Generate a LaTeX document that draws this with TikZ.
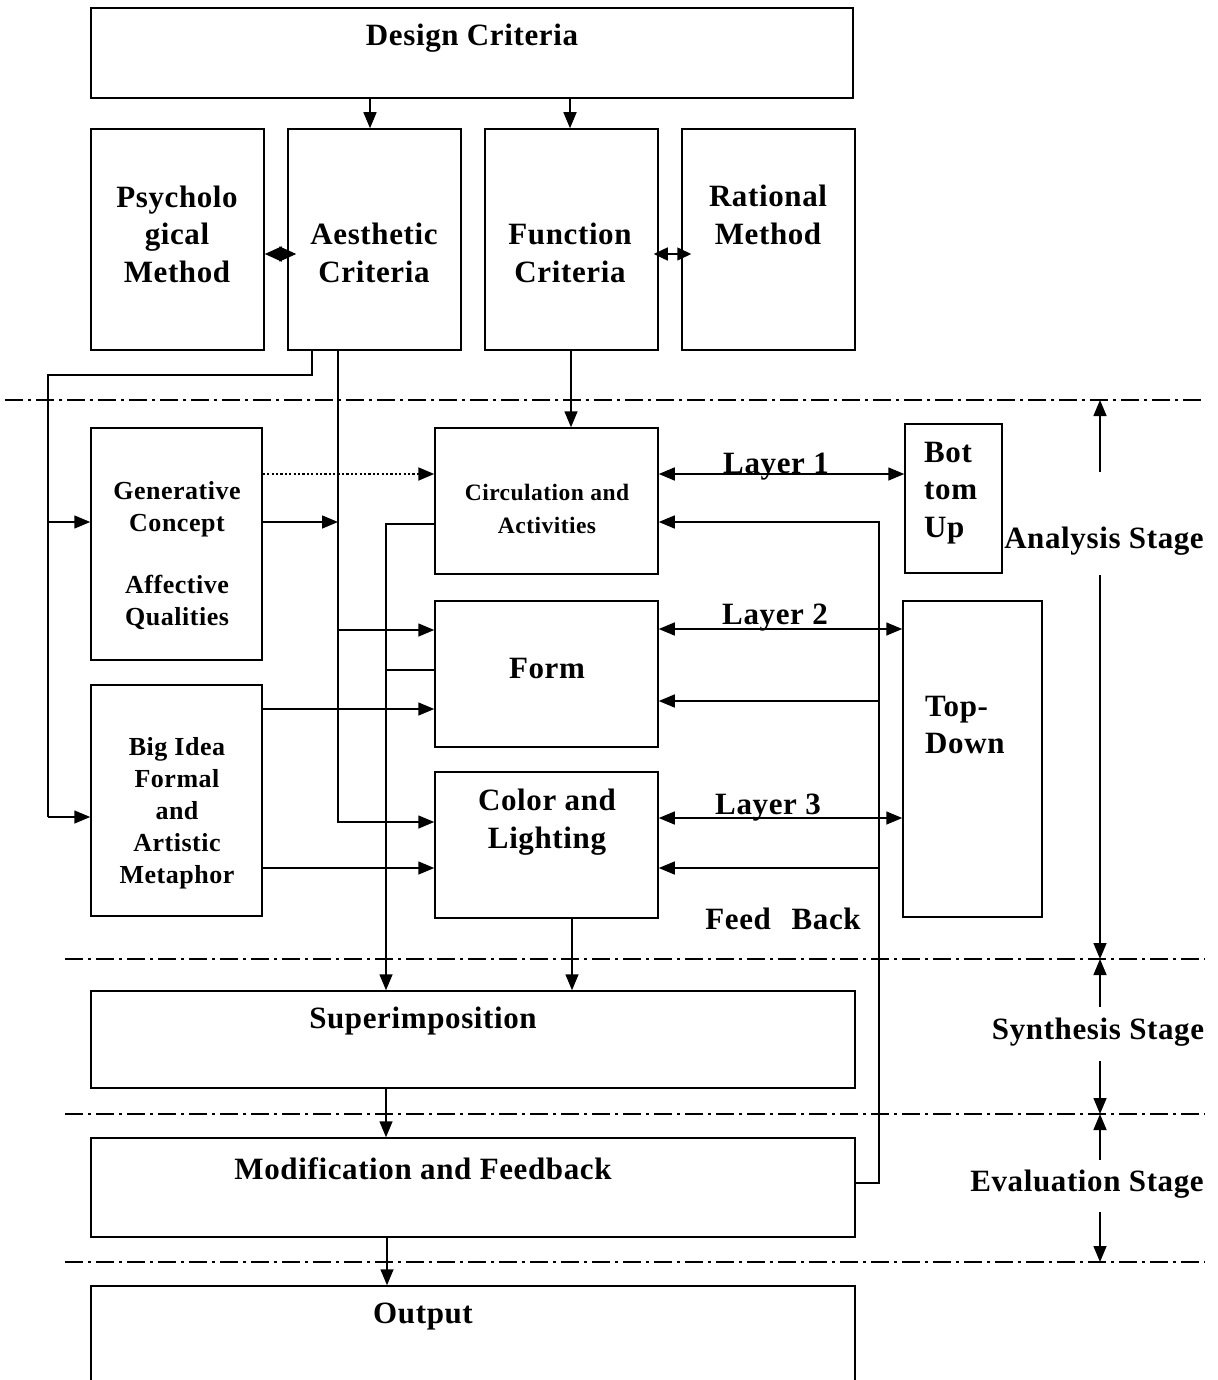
\documentclass[tikz,border=0pt]{standalone}
\usepackage{fontspec}
\setmainfont[LetterSpace=2]{Liberation Serif}
\usetikzlibrary{arrows.meta,fit,calc}
\tikzset{
  box/.style={draw, line width=1.5pt, inner sep=0pt},
  lbl/.style={font=\bfseries\fontsize{31}{37.5}\selectfont, align=center, inner sep=0pt},
  lblm/.style={font=\bfseries\fontsize{26}{32}\selectfont, align=center, inner sep=0pt},
  lbls/.style={font=\bfseries\fontsize{23.5}{33}\selectfont, align=center, inner sep=0pt},
  wire/.style={line width=1.5pt},
  conn/.style={line width=1.5pt, -{Triangle[length=16pt,width=13pt]}},
  dbl/.style={line width=1.5pt, {Triangle[length=16pt,width=13pt]}-{Triangle[length=16pt,width=13pt]}},
  diam/.style={line width=1.5pt, {Triangle[length=17pt,width=15pt]}-{Triangle[length=17pt,width=15pt]},
    shorten >=-9pt},
  dbls/.style={line width=1.5pt, {Triangle[length=14pt,width=13pt]}-{Triangle[length=14pt,width=13pt]},
    shorten <=-5pt, shorten >=-10pt},
  dots/.style={line width=2pt, dash pattern=on 2.2pt off 2.2pt},
  divider/.style={line width=1.5pt, dash pattern=on 18pt off 5pt on 3pt off 5pt},
}
\begin{document}
\begin{tikzpicture}[x=1pt,y=-1pt]
\useasboundingbox (0,0) rectangle (1217,1380);

% ---- boxes ----
\node[box, fit={(91,8)(853,98)}] (dc) {};
\node[box, fit={(91,129)(264,350)}] (psy) {};
\node[box, fit={(288,129)(461,350)}] (aes) {};
\node[box, fit={(485,129)(658,350)}] (fun) {};
\node[box, fit={(682,129)(855,350)}] (rat) {};
\node[box, fit={(91,428)(262,660)}] (gen) {};
\node[box, fit={(91,685)(262,916)}] (big) {};
\node[box, fit={(435,428)(658,574)}] (circ) {};
\node[box, fit={(435,601)(658,747)}] (form) {};
\node[box, fit={(435,772)(658,918)}] (col) {};
\node[box, fit={(905,424)(1002,573)}] (bu) {};
\node[box, fit={(903,601)(1042,917)}] (td) {};
\node[box, fit={(91,991)(855,1088)}] (sup) {};
\node[box, fit={(91,1138)(855,1237)}] (mod) {};
\node[box, fit={(91,1286)(855,1384)}] (out) {};

% ---- labels ----
\node[lbl] (dct) at (472,38) {Design Criteria};
\node[lbl] (psyt) at (177,234) {Psycholo\\gical\\Method};
\node[lbl] (aest) at (374,253) {Aesthetic\\Criteria};
\node[lbl] (funt) at (570,253) {Function\\Criteria};
\node[lbl] (ratt) at (768,215) {Rational\\Method};
\node[lblm] (gent) at (177,556) {Generative\\Concept\\[30pt]Affective\\Qualities};
\node[lblm] (bigt) at (177,813) {Big Idea\\Formal\\and\\Artistic\\Metaphor};
\node[lbls] (circt) at (547,509) {Circulation and\\Activities};
\node[lbl] (formt) at (547,668) {Form};
\node[lbl] (colt) at (547,822) {Color and\\Lighting};
\node[lbl, align=left, anchor=west] (but) at (924,493) {Bot\\tom\\Up};
\node[lbl, align=left, anchor=west] (tdt) at (925,725) {Top-\\Down};
\node[lbl] (l1) at (776,467) {Layer 1};
\node[lbl] (l2) at (775,618) {Layer 2};
\node[lbl] (l3) at (768,808) {Layer 3};
\node[lbl] (fb) at (783,919) {Feed\hspace{0.4em} Back};
\node[lbl] (supt) at (423,1021) {Superimposition};
\node[lbl] (modt) at (423,1169) {Modification and Feedback};
\node[lbl] (outt) at (423,1317) {Output};
\node[lbl] (ana) at (1104,541) {Analysis Stage};
\node[lbl] (syn) at (1098,1032) {Synthesis Stage};
\node[lbl] (eva) at (1087,1184) {Evaluation Stage};

% ---- stage dividers ----
\draw[divider] (5,400) -- (1205,400);
\draw[divider] (65,959) -- (1205,959);
\draw[divider] (65,1114) -- (1205,1114);
\draw[divider] (65,1262) -- (1205,1262);

% ---- top level ----
\draw[conn] (370,0 |- dc.south) -- (370,0 |- aes.north);
\draw[conn] (570,0 |- dc.south) -- (570,0 |- fun.north);
\draw[diam] (psy.east |- 0,254) -- (aes.west |- 0,254);
\draw[dbls] (fun.east |- 0,254) -- (rat.west |- 0,254);

% ---- aesthetic criteria branches ----
\coordinate (busTop) at (48,375);
\draw[wire] (312,0 |- aes.south) |- (busTop) -- (48,817);
\draw[conn] (48,522) -- (gen.west |- 0,522);
\draw[conn] (48,817) -- (big.west |- 0,817);
\draw[conn] (338,0 |- aes.south) |- (col.west |- 0,822);
\draw[conn] (338,630) -- (form.west |- 0,630);
\draw[conn] (gen.east |- 0,522) -- (338,522);
\draw[conn, dots] (gen.east |- 0,474) -- (circ.west |- 0,474);
\draw[conn] (big.east |- 0,709) -- (form.west |- 0,709);
\draw[conn] (big.east |- 0,868) -- (col.west |- 0,868);

% ---- function criteria ----
\draw[conn] (571,0 |- fun.south) -- (571,0 |- circ.north);

% ---- layers ----
\draw[dbl] (circ.east |- 0,474) -- (bu.west |- 0,474);
\draw[dbl] (form.east |- 0,629) -- (td.west |- 0,629);
\draw[dbl] (col.east |- 0,818) -- (td.west |- 0,818);

% ---- synthesis ----
\draw[conn] (circ.west |- 0,524) -| (386,0 |- sup.north);
\draw[wire] (form.west |- 0,670) -- (386,670);
\draw[conn] (572,0 |- col.south) -- (572,0 |- sup.north);
\draw[conn] (386,0 |- sup.south) -- (386,0 |- mod.north);
\draw[conn] (387,0 |- mod.south) -- (387,0 |- out.north);

% ---- feedback loop ----
\draw[conn] (mod.east |- 0,1183) -| (879,522) -- (circ.east |- 0,522);
\draw[conn] (879,701) -- (form.east |- 0,701);
\draw[conn] (879,868) -- (col.east |- 0,868);

% ---- stage extents ----
\draw[conn] (1100,472) -- (1100,400);
\draw[conn] (1100,575) -- (1100,959);
\draw[conn] (1100,1007) -- (1100,959);
\draw[conn] (1100,1061) -- (1100,1114);
\draw[conn] (1100,1160) -- (1100,1114);
\draw[conn] (1100,1212) -- (1100,1262);
\end{tikzpicture}
\end{document}
